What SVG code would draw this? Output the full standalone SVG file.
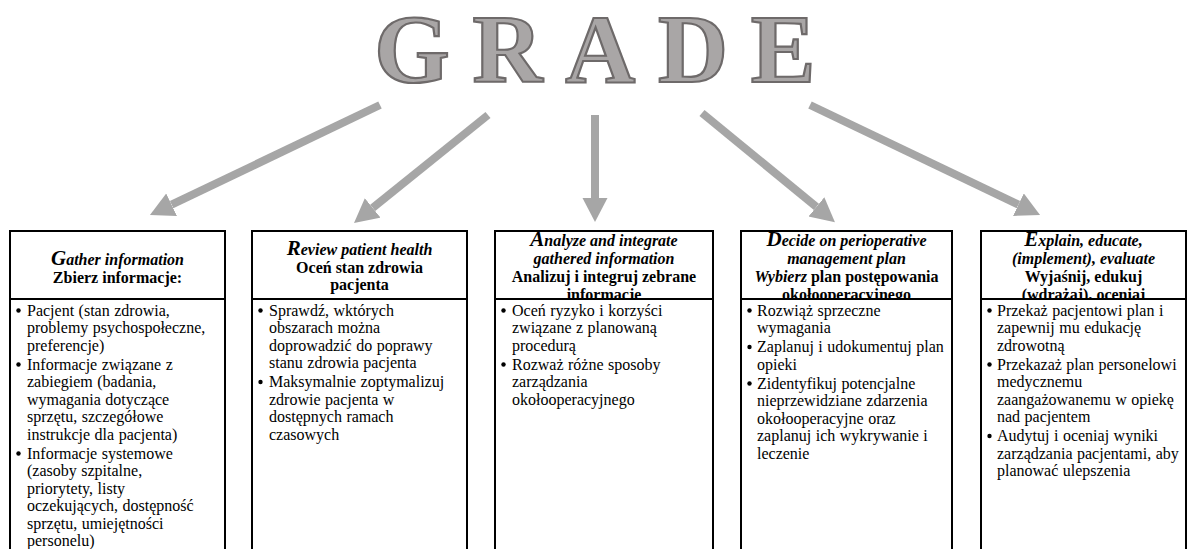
<svg xmlns="http://www.w3.org/2000/svg" width="1188" height="549" viewBox="0 0 1188 549">
  <style>
    .title { font-family: "Liberation Serif", "Times New Roman", serif; font-weight: bold; font-size: 97px; letter-spacing: 22.7px; fill: #a9a6a6; stroke: #6e6a6a; stroke-width: 2.2px; }
    .frame { fill: #ffffff; stroke: #000000; stroke-width: 2; }
    .hd { font-family: "Liberation Serif", "Times New Roman", serif; font-weight: bold; font-size: 16px; fill: #000; text-anchor: middle; }
    .it { font-style: italic; }
    .cap { font-size: 21px; }
    .body { font-family: "Liberation Serif", "Times New Roman", serif; font-size: 16px; fill: #000; word-spacing: 0.5px; }
    .dot { fill: #000; }
    .conn { stroke: #a6a6a6; stroke-width: 8; fill: none; marker-end: url(#head); }
  </style>
  <defs>
    <marker id="head" markerUnits="userSpaceOnUse" markerWidth="26" markerHeight="26" refX="0" refY="12.5" orient="auto">
      <path d="M0,0 L24,12.5 L0,25 Z" fill="#a6a6a6"/>
    </marker>
  </defs>

  <rect x="0" y="0" width="1188" height="549" fill="#ffffff"/>

  <!-- title, letters spread apart -->
  <g id="title">
    <text class="title" x="374.3" y="82">GRADE</text>
  </g>

  <!-- connectors from the title to the five steps -->
  <g id="connectors">
    <line class="conn" x1="380" y1="105" x2="171.6" y2="204.7"/>
    <line class="conn" x1="488" y1="115" x2="372.7" y2="207.9"/>
    <line class="conn" x1="595" y1="115" x2="595" y2="198"/>
    <line class="conn" x1="702" y1="113" x2="816.4" y2="206.9"/>
    <line class="conn" x1="810" y1="105" x2="1018.4" y2="204.7"/>
  </g>

  <!-- G: gather information -->
  <g id="step-gather">
    <rect class="frame" x="10" y="231" width="215" height="340"/>
    <text class="hd it" x="117.5" y="265"><tspan class="cap">G</tspan>ather information</text>
    <text class="hd" x="117.5" y="283">Zbierz informacje:</text>
    <rect class="frame" x="10" y="299" width="215" height="272"/>
    <circle class="dot" cx="18.5" cy="310.5" r="2.2"/>
    <circle class="dot" cx="18.5" cy="364.5" r="2.2"/>
    <circle class="dot" cx="18.5" cy="453.5" r="2.2"/>
    <text class="body">
      <tspan x="27" y="315.5">Pacjent (stan zdrowia,</tspan>
      <tspan x="27" y="333">problemy psychospołeczne,</tspan>
      <tspan x="27" y="350.5">preferencje)</tspan>
      <tspan x="27" y="369.5">Informacje związane z</tspan>
      <tspan x="27" y="387">zabiegiem (badania,</tspan>
      <tspan x="27" y="404.5">wymagania dotyczące</tspan>
      <tspan x="27" y="422">sprzętu, szczegółowe</tspan>
      <tspan x="27" y="439.5">instrukcje dla pacjenta)</tspan>
      <tspan x="27" y="458.5">Informacje systemowe</tspan>
      <tspan x="27" y="476">(zasoby szpitalne,</tspan>
      <tspan x="27" y="493.5">priorytety, listy</tspan>
      <tspan x="27" y="511">oczekujących, dostępność</tspan>
      <tspan x="27" y="528.5">sprzętu, umiejętności</tspan>
      <tspan x="27" y="546">personelu)</tspan>
    </text>
  </g>

  <!-- R: review patient health -->
  <g id="step-review">
    <rect class="frame" x="252" y="231" width="215" height="340"/>
    <text class="hd it" x="359.5" y="255"><tspan class="cap">R</tspan>eview patient health</text>
    <text class="hd" x="359.5" y="272.5">Oceń stan zdrowia</text>
    <text class="hd" x="359.5" y="290">pacjenta</text>
    <rect class="frame" x="252" y="299" width="215" height="272"/>
    <circle class="dot" cx="260.5" cy="310.5" r="2.2"/>
    <circle class="dot" cx="260.5" cy="382" r="2.2"/>
    <text class="body">
      <tspan x="269" y="315.5">Sprawdź, wktórych</tspan>
      <tspan x="269" y="333">obszarach można</tspan>
      <tspan x="269" y="350.5">doprowadzić do poprawy</tspan>
      <tspan x="269" y="368">stanu zdrowia pacjenta</tspan>
      <tspan x="269" y="387">Maksymalnie zoptymalizuj</tspan>
      <tspan x="269" y="404.5">zdrowie pacjenta w</tspan>
      <tspan x="269" y="422">dostępnych ramach</tspan>
      <tspan x="269" y="439.5">czasowych</tspan>
    </text>
  </g>

  <!-- A: analyze and integrate -->
  <g id="step-analyze">
    <rect class="frame" x="495" y="231" width="218" height="340"/>
    <text class="hd it" x="604" y="246"><tspan class="cap">A</tspan>nalyze and integrate</text>
    <text class="hd it" x="604" y="264">gathered information</text>
    <text class="hd" x="604" y="281.5">Analizuj i integruj zebrane</text>
    <text class="hd" x="604" y="299.5">informacje</text>
    <rect class="frame" x="495" y="299" width="218" height="272"/>
    <circle class="dot" cx="503.5" cy="310.5" r="2.2"/>
    <circle class="dot" cx="503.5" cy="364.5" r="2.2"/>
    <text class="body">
      <tspan x="512" y="315.5">Oceń ryzyko i korzyści</tspan>
      <tspan x="512" y="333">związane z planowaną</tspan>
      <tspan x="512" y="350.5">procedurą</tspan>
      <tspan x="512" y="369.5">Rozważ różne sposoby</tspan>
      <tspan x="512" y="387">zarządzania</tspan>
      <tspan x="512" y="404.5">okołooperacyjnego</tspan>
    </text>
  </g>

  <!-- D: decide on management plan -->
  <g id="step-decide">
    <rect class="frame" x="741" y="231" width="211" height="340"/>
    <text class="hd it" x="846.5" y="246"><tspan class="cap">D</tspan>ecide on perioperative</text>
    <text class="hd it" x="846.5" y="264">management plan</text>
    <text class="hd" x="846.5" y="281.5"><tspan class="it">Wybierz</tspan> plan postępowania</text>
    <text class="hd" x="846.5" y="299.5">okołooperacyjnego</text>
    <rect class="frame" x="741" y="299" width="211" height="272"/>
    <circle class="dot" cx="749.5" cy="310.5" r="2.2"/>
    <circle class="dot" cx="749.5" cy="347" r="2.2"/>
    <circle class="dot" cx="749.5" cy="383.5" r="2.2"/>
    <text class="body">
      <tspan x="757" y="315.5">Rozwiąż sprzeczne</tspan>
      <tspan x="757" y="333">wymagania</tspan>
      <tspan x="757" y="352">Zaplanuj i udokumentuj plan</tspan>
      <tspan x="757" y="369.5">opieki</tspan>
      <tspan x="757" y="388.5">Zidentyfikuj potencjalne</tspan>
      <tspan x="757" y="406">nieprzewidziane zdarzenia</tspan>
      <tspan x="757" y="423.5">okołooperacyjne oraz</tspan>
      <tspan x="757" y="441">zaplanuj ich wykrywanie i</tspan>
      <tspan x="757" y="458.5">leczenie</tspan>
    </text>
  </g>

  <!-- E: explain, educate, evaluate -->
  <g id="step-explain">
    <rect class="frame" x="981" y="231" width="205" height="340"/>
    <text class="hd it" x="1083.5" y="246"><tspan class="cap">E</tspan>xplain, educate,</text>
    <text class="hd it" x="1083.5" y="264">(implement), evaluate</text>
    <text class="hd" x="1083.5" y="281.5">Wyjaśnij, edukuj</text>
    <text class="hd" x="1083.5" y="299.5">(wdrażaj), oceniaj</text>
    <rect class="frame" x="981" y="299" width="205" height="272"/>
    <circle class="dot" cx="989.5" cy="310.5" r="2.2"/>
    <circle class="dot" cx="989.5" cy="364.5" r="2.2"/>
    <circle class="dot" cx="989.5" cy="436" r="2.2"/>
    <text class="body">
      <tspan x="997" y="315.5">Przekaż pacjentowi plan i</tspan>
      <tspan x="997" y="333">zapewnij mu edukację</tspan>
      <tspan x="997" y="350.5">zdrowotną</tspan>
      <tspan x="997" y="369.5">Przekazaż plan personelowi</tspan>
      <tspan x="997" y="387">medycznemu</tspan>
      <tspan x="997" y="404.5">zaangażowanemu w opiekę</tspan>
      <tspan x="997" y="422">nad pacjentem</tspan>
      <tspan x="997" y="441">Audytuj i oceniaj wyniki</tspan>
      <tspan x="997" y="458.5">zarządzania pacjentami, aby</tspan>
      <tspan x="997" y="476">planować ulepszenia</tspan>
    </text>
  </g>
</svg>
